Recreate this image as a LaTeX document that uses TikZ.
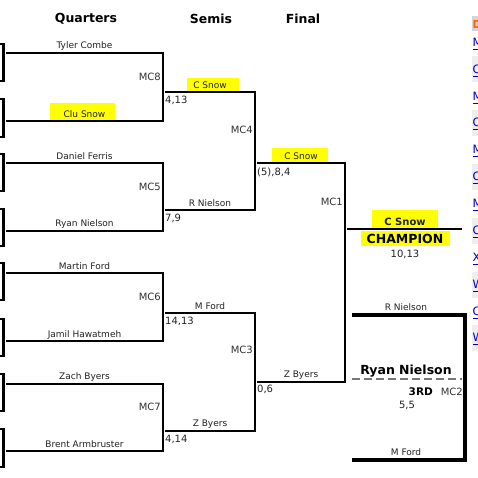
\documentclass[tikz,border=0pt]{standalone}
\usepackage{fontspec}
\setmainfont{DejaVu Sans}
\definecolor{hl}{HTML}{FFFF00}
\definecolor{txt}{HTML}{222222}
\definecolor{mc}{HTML}{333333}
\definecolor{lnk}{HTML}{0000CC}
\definecolor{rowgray}{HTML}{EEEEEE}
\definecolor{hdrgray}{HTML}{D4D4D4}
\definecolor{dashgray}{HTML}{777777}
\begin{document}
\begin{tikzpicture}[x=1pt,y=-1pt,
  br/.style={line width=2.6pt, line join=miter, line cap=butt},
  brthick/.style={line width=3.2pt, line join=miter, line cap=butt},
  oldbr/.style={line width=2.4pt, line join=miter},
  head/.style={font=\fontsize{12.5}{14}\selectfont\bfseries, text=black, inner sep=0pt},
  nm/.style={font=\fontsize{9}{11}\selectfont, text=txt, inner sep=0pt},
  sc/.style={font=\fontsize{10}{12}\selectfont, text=txt, inner sep=0pt, anchor=west},
  mclab/.style={font=\fontsize{10}{12}\selectfont, text=mc, inner sep=0pt, anchor=east},
  hlbox/.style={fill=hl, draw=none},
  lk/.style={font=\fontsize{11.5}{13}\selectfont, text=lnk, inner sep=0pt, anchor=west}]
\useasboundingbox (0,0) rectangle (478,478);
\fill[white] (0,0) rectangle (478,478);

% highlights
\fill[hlbox] (50,103) rectangle (115,121);
\fill[hlbox] (187,78) rectangle (239,93);
\fill[hlbox] (272,148) rectangle (328,163);
\fill[hlbox] (372,210) rectangle (438,228);
\fill[hlbox] (361,231) rectangle (450,246);

% headers
\node[head] (hq) at (86,19) {Quarters};
\node[head] (hs) at (211,19) {Semis};
\node[head] (hf) at (303,19) {Final};

% cut-off previous-round brackets
\foreach \t/\b [count=\i] in {44/81, 99/137, 154/191, 209/246, 263/300, 319/356, 374/411, 429/467}{
  \coordinate (ot\i) at (0,\t);
  \coordinate (ov\i) at (3.5,\t);
  \coordinate (ow\i) at (3.5,\b);
  \coordinate (ob\i) at (0,\b);
  \draw[oldbr] (ot\i) -- (ov\i) -- (ow\i) -- (ob\i);
}

% quarter-final brackets
\foreach \a/\b/\m/\ly/\na/\nb in {53/121/MC8/77/Tyler Combe/Clu Snow,
    163/231/MC5/187/Daniel Ferris/Ryan Nielson,
    273/341/MC6/297/Martin Ford/Jamil Hawatmeh,
    384/451/MC7/407/Zach Byers/Brent Armbruster}{
  \coordinate (qa\m) at (6,\a);
  \coordinate (ma\m) at (163,\a);
  \coordinate (mb\m) at (163,\b);
  \coordinate (qb\m) at (6,\b);
  \draw[br] (qa\m) -- (ma\m) -- (mb\m) -- (qb\m);
  \node[nm] (na\m) at (84.5,\a-6.5) {\na};
  \node[nm] (nb\m) at (84.5,\b-6.5) {\nb};
  \node[mclab] (l\m) at (161,\ly) {\m};
}

% semi-final brackets
\coordinate (sa4) at (165,92);  \coordinate (sb4) at (255,92);
\coordinate (sc4) at (255,210); \coordinate (sd4) at (165,210);
\draw[br] (sa4) -- (sb4) -- (sc4) -- (sd4);
\coordinate (sa3) at (165,313);  \coordinate (sb3) at (255,313);
\coordinate (sc3) at (255,431); \coordinate (sd3) at (165,431);
\draw[br] (sa3) -- (sb3) -- (sc3) -- (sd3);

\node[nm] (s1) at (210,85.5) {C Snow};
\node[nm] (s2) at (210,203.5) {R Nielson};
\node[nm] (s3) at (210,306.5) {M Ford};
\node[nm] (s4) at (210,424.5) {Z Byers};
\node[sc] (c1) at (165,100) {4,13};
\node[sc] (c2) at (165,218) {7,9};
\node[sc] (c3) at (165,321) {14,13};
\node[sc] (c4) at (165,439) {4,14};
\node[mclab] (lMC4) at (253,130) {MC4};
\node[mclab] (lMC3) at (253,350) {MC3};

% final bracket
\coordinate (fa) at (257,163); \coordinate (fb) at (345,163);
\coordinate (fc) at (345,382); \coordinate (fd) at (257,382);
\draw[br] (fa) -- (fb) -- (fc) -- (fd);
\node[nm] (f1) at (301,156.5) {C Snow};
\node[nm] (f2) at (301,375.5) {Z Byers};
\node[sc] (c5) at (257,172) {(5),8,4};
\node[sc] (c6) at (257,389) {0,6};
\node[mclab] (lMC1) at (343,202) {MC1};

% champion
\coordinate (ca) at (347,229); \coordinate (cb) at (462,229);
\draw[br] (ca) -- (cb);
\node[font=\fontsize{10}{12}\selectfont\bfseries, text=txt, inner sep=0pt] (champ) at (405,221.5) {C Snow};
\node[font=\fontsize{12.5}{14}\selectfont\bfseries, text=black, inner sep=0pt] (champlab) at (405,238.5) {CHAMPION};
\node[font=\fontsize{10}{12}\selectfont, text=txt, inner sep=0pt] (cs) at (405,254) {10,13};

% third place
\coordinate (ta) at (352,315); \coordinate (tb) at (465,315);
\coordinate (tc) at (465,460); \coordinate (td) at (352,460);
\draw[brthick] (ta) -- (tb) -- (tc) -- (td);
\coordinate (da) at (352,379); \coordinate (db) at (462,379);
\draw[dashgray, line width=2pt, dash pattern=on 8pt off 4pt] (da) -- (db);
\node[nm] (t1) at (406,307.5) {R Nielson};
\node[nm] (t2) at (406,452.5) {M Ford};
\node[font=\fontsize{12.5}{14}\selectfont\bfseries, text=black, inner sep=0pt] (third) at (406,371) {Ryan Nielson};
\node[font=\fontsize{10.5}{12}\selectfont\bfseries, text=black, inner sep=0pt, anchor=east] (rd) at (433,392) {3RD};
\node[mclab] (lMC2) at (463,392) {MC2};
\node[font=\fontsize{10}{12}\selectfont, text=txt, inner sep=0pt] (ts) at (407,405) {5,5};

% cut-off side column
\begin{scope}
\clip (466,0) rectangle (478,478);
\fill[hdrgray] (472,16) rectangle (478,31);
\foreach \y in {56,110,164,218,272,325}{
  \fill[rowgray] (472,\y) rectangle (478,\y+26);
}
\node[font=\fontsize{11}{13}\selectfont\bfseries, text={rgb,255:red,255;green,102;blue,0}, inner sep=0pt, anchor=west] (dh) at (472.5,24) {D};
\foreach \y/\ch [count=\k] in {42/M,69/C,96/M,122/C,149/M,176/C,203/M,230/C,257/X,284/W,311/C,337/W}{
  \node[lk] (lk\k) at (472.5,\y) {\ch};
  \coordinate (u\k) at (473,\y+7.5);
  \coordinate (v\k) at (478,\y+7.5);
  \draw[lnk, line width=1pt] (u\k) -- (v\k);
}
\end{scope}
\end{tikzpicture}
\end{document}
